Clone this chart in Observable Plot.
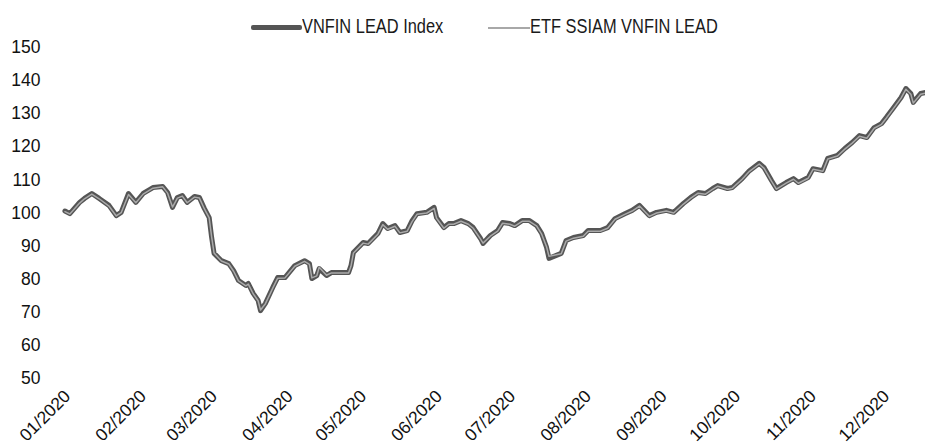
<!DOCTYPE html>
<html>
<head>
<meta charset="utf-8">
<script src="https://cdn.jsdelivr.net/npm/d3@7"></script>
<script src="https://cdn.jsdelivr.net/npm/@observablehq/plot@0.6"></script>
<style>
  html, body { margin: 0; padding: 0; background: #fff; overflow: hidden; }
  #wrap { position: relative; width: 925px; height: 447px; }
  .legend { position: absolute; top: 0; left: 0; width: 925px; height: 40px; font-family: "Liberation Sans", Arial, sans-serif; font-size: 20px; color: #1a1a1a; z-index: 2; }
  .legend .sw { position: absolute; }
  .legend .lbl { position: absolute; top: 15px; line-height: 22px; white-space: nowrap; transform: scaleX(0.82); transform-origin: 0 50%; }
</style>
</head>
<body>
<div id="wrap">
  <div class="legend">
    <div class="sw" style="left:251px; top:25px; width:51px; height:5px; background:#555; border-radius:2px;"></div>
    <div class="lbl" style="left:302px;">VNFIN LEAD Index</div>
    <div class="sw" style="left:488px; top:27px; width:42px; height:1.5px; background:#a8a8a8;"></div>
    <div class="lbl" style="left:530px;">ETF SSIAM VNFIN LEAD</div>
  </div>
</div>
<script>
const seriesNames = ["VNFIN LEAD Index", "ETF SSIAM VNFIN LEAD"];
const xTickLabels = ["01/2020","02/2020","03/2020","04/2020","05/2020","06/2020","07/2020","08/2020","09/2020","10/2020","11/2020","12/2020"];
const xTickDates = ["2020-01-01","2020-02-01","2020-03-01","2020-04-01","2020-05-01","2020-06-01","2020-07-01","2020-08-01","2020-09-01","2020-10-01","2020-11-01","2020-12-01"];
const yTicks = [50, 60, 70, 80, 90, 100, 110, 120, 130, 140, 150];

const dates = [
"2020-01-02","2020-01-04","2020-01-08","2020-01-10","2020-01-13","2020-01-16","2020-01-20","2020-01-23","2020-01-25","2020-01-28",
"2020-01-31","2020-02-03","2020-02-07","2020-02-11","2020-02-13","2020-02-15","2020-02-17","2020-02-19","2020-02-21","2020-02-24",
"2020-02-26","2020-02-28","2020-03-01","2020-03-02","2020-03-03","2020-03-06","2020-03-09","2020-03-11","2020-03-13","2020-03-16",
"2020-03-17","2020-03-19","2020-03-21","2020-03-22","2020-03-24","2020-03-27","2020-03-29","2020-04-01","2020-04-05","2020-04-09",
"2020-04-11","2020-04-12","2020-04-14","2020-04-15","2020-04-18","2020-04-20","2020-04-27","2020-04-28","2020-04-29","2020-05-03",
"2020-05-05","2020-05-09","2020-05-11","2020-05-13","2020-05-16","2020-05-18","2020-05-21","2020-05-23","2020-05-25","2020-05-29",
"2020-06-01","2020-06-02","2020-06-05","2020-06-07","2020-06-09","2020-06-12","2020-06-15","2020-06-17","2020-06-20","2020-06-21",
"2020-06-24","2020-06-27","2020-06-29","2020-07-02","2020-07-04","2020-07-07","2020-07-10","2020-07-13","2020-07-15","2020-07-17",
"2020-07-18","2020-07-21","2020-07-23","2020-07-25","2020-07-28","2020-08-01","2020-08-03","2020-08-08","2020-08-11","2020-08-14",
"2020-08-18","2020-08-21","2020-08-24","2020-08-28","2020-08-31","2020-09-04","2020-09-07","2020-09-11","2020-09-14","2020-09-17",
"2020-09-20","2020-09-23","2020-09-25","2020-09-29","2020-10-01","2020-10-05","2020-10-08","2020-10-12","2020-10-14","2020-10-17",
"2020-10-19","2020-10-23","2020-10-26","2020-10-28","2020-11-01","2020-11-03","2020-11-07","2020-11-09","2020-11-13","2020-11-16",
"2020-11-19","2020-11-22","2020-11-25","2020-11-28","2020-12-01","2020-12-03","2020-12-06","2020-12-09","2020-12-11","2020-12-13",
"2020-12-14","2020-12-17","2020-12-19"
];

const indexValues = [
100.6, 99.8,103.2,104.4,105.9,104.4,102.3, 99.2,100.2,105.9,
103.2,105.9,107.7,108.0,106.2,101.7,104.7,105.3,103.2,105.0,
104.7,101.4, 98.6, 92.6, 87.8, 85.6, 84.7, 82.6, 79.6, 78.1,
 78.7, 75.7, 73.6, 70.5, 72.7, 77.5, 80.5, 80.5, 84.1, 85.6,
 84.7, 80.2, 81.1, 83.2, 81.1, 82.0, 82.0, 84.1, 88.1, 91.1,
 90.8, 93.8, 96.8, 95.3, 96.2, 94.1, 94.7, 97.7, 99.8,100.2,
101.7, 98.6, 95.6, 96.8, 96.8, 97.7, 96.8, 95.6, 92.3, 90.8,
 93.2, 94.7, 97.1, 96.8, 96.2, 97.7, 97.7, 96.2, 93.8, 89.6,
 86.3, 87.2, 87.8, 91.7, 92.6, 93.2, 94.7, 94.7, 95.6, 98.3,
 99.8,100.8,102.3, 99.2,100.2,100.8,100.2,102.9,104.7,106.2,
105.9,107.4,108.3,107.4,107.7,110.4,112.8,115.0,113.7,109.8,
107.4,109.2,110.4,109.2,110.7,113.4,112.8,116.5,117.4,119.5,
121.3,123.4,122.8,125.8,127.0,128.9,131.9,134.9,137.6,136.1,
133.4,136.1,136.4
];

const etfValues = [
100.4, 99.7,103.0,104.3,105.7,104.3,102.1, 99.1,100.1,105.6,
103.1,105.7,107.5,107.9,106.0,101.8,104.5,105.1,103.1,104.8,
104.5,101.3, 98.5, 92.8, 87.9, 85.5, 84.6, 82.4, 79.5, 78.0,
 78.5, 75.6, 73.5, 70.7, 72.6, 77.3, 80.3, 80.4, 83.9, 85.4,
 84.5, 80.4, 81.0, 83.6, 81.2, 81.9, 81.9, 83.9, 87.9, 90.9,
 90.6, 93.6, 96.5, 95.1, 96.0, 94.0, 94.5, 97.4, 99.6,100.0,
101.4, 98.4, 95.4, 96.6, 96.6, 97.5, 96.6, 95.4, 92.1, 90.9,
 93.0, 94.5, 96.9, 96.6, 96.0, 97.5, 97.5, 96.0, 93.6, 89.8,
 86.9, 87.4, 87.7, 91.5, 92.4, 93.0, 94.5, 94.5, 95.4, 98.1,
 99.6,100.6,102.1, 99.0,100.0,100.6,100.0,102.7,104.5,106.0,
105.7,107.2,108.1,107.2,107.5,110.2,112.6,114.8,113.5,109.6,
107.2,109.0,110.2,109.0,110.5,113.2,112.6,116.3,117.2,119.3,
121.1,123.2,122.6,125.6,126.8,128.7,131.7,134.7,137.4,135.9,
133.2,135.9,136.2
];

const parse = s => new Date(s + "T00:00:00Z");
const indexData = dates.map((d, i) => ({date: parse(d), value: indexValues[i]}));
const etfData = dates.map((d, i) => ({date: parse(d), value: etfValues[i]}));
const tickDates = xTickDates.map(parse);

const chart = Plot.plot({
  width: 925,
  height: 447,
  marginLeft: 62,
  marginRight: 0,
  marginTop: 47,
  marginBottom: 69,
  style: {fontFamily: "'Liberation Sans', Arial, sans-serif", fontSize: "17px", color: "#111", background: "#fff", overflow: "hidden"},
  x: {type: "utc", domain: [parse("2020-01-01"), parse("2020-12-19")], label: null},
  y: {domain: [50, 150], label: null},
  marks: [
    Plot.axisY({ticks: yTicks, tickSize: 0, tickPadding: 22, fontSize: 17.5, label: null, tickFormat: d => String(d)}),
    Plot.axisX({ticks: tickDates, tickSize: 0, tickPadding: 15, tickRotate: -45, fontSize: 17.5, label: null, dx: 5,
      tickFormat: d => xTickLabels[d.getUTCMonth()]}),
    Plot.lineY(indexData, {x: "date", y: "value", stroke: "#555", strokeWidth: 5, strokeLinejoin: "round", strokeLinecap: "round"}),
    Plot.lineY(etfData, {x: "date", y: "value", stroke: "#aaa", strokeWidth: 1.5, strokeLinejoin: "round"})
  ]
});
document.getElementById("wrap").appendChild(chart);
chart.style.position = "absolute";
chart.style.left = "0";
chart.style.top = "0";
</script>
</body>
</html>
